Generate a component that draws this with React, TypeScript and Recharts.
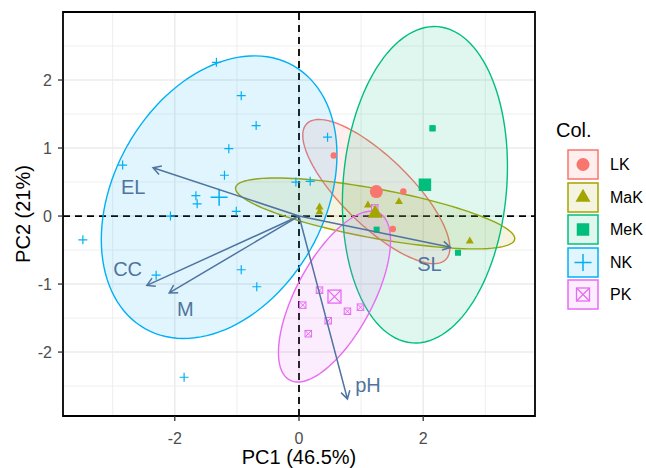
import React from "react";
import {
  ScatterChart,
  Scatter,
  XAxis,
  YAxis,
  CartesianGrid,
  ReferenceLine,
  ReferenceArea,
} from "recharts";

const FONT = '"Liberation Sans", Arial, Helvetica, sans-serif';

// groups, in legend order
const groupNames = ["LK", "MaK", "MeK", "NK", "PK"];
const groupColors = ["#F8766D", "#A3A500", "#00BF7D", "#00B0F6", "#E76BF3"];
const groupShapes = ["circle", "triangle", "square", "plus", "squarecross"];

// individual scores (PC1 / PC2) for each group
const lkPC1 = [0.56, 1.68, 1.51, 1.23];
const lkPC2 = [0.89, 0.36, -0.19, 0.38];
const makPC1 = [0.33, 0.33, 1.11, 1.61, 2.75];
const makPC2 = [0.13, 0.06, 0.16, 0.21, -0.37];
const mekPC1 = [2.15, 2.15, 1.25, 2.56];
const mekPC2 = [1.29, 1.29, -0.2, -0.54];
const nkPC1 = [-1.33, -0.93, -0.69, -1.13, -2.84, -1.2, -1.66, -1.64, -1.01, -2.07, -3.48, -2.3, -0.93, -0.68, -1.85, 0.46, -0.05, 0.18];
const nkPC2 = [2.26, 1.77, 1.33, 0.99, 0.75, 0.6, 0.3, 0.18, 0.07, 0.0, -0.35, -0.87, -0.79, -1.04, -2.37, 1.16, 0.5, 0.51];
const pkPC1 = [0.33, 0.06, 0.78, 0.99, 0.47, 0.15, 1.22];
const pkPC2 = [-1.09, -1.31, -1.4, -1.34, -1.54, -1.73, 0.12];

const groupPC1 = [lkPC1, makPC1, mekPC1, nkPC1, pkPC1];
const groupPC2 = [lkPC2, makPC2, mekPC2, nkPC2, pkPC2];

// variable loadings (arrows) and where their labels sit
const varNames = ["EL", "CC", "M", "SL", "pH"];
const varPC1 = [-2.35, -2.45, -2.09, 2.44, 0.78];
const varPC2 = [0.71, -1.02, -1.13, -0.46, -2.69];
const varLabelPC1 = [-2.67, -2.76, -1.83, 2.1, 1.11];
const varLabelPC2 = [0.43, -0.78, -1.36, -0.71, -2.48];

const xTicks = [-2, 0, 2];
const yTicks = [-2, -1, 0, 1, 2];
const xMinor = [-3, -1, 1, 3];
const yMinor = [-2.5, -1.5, -0.5, 0.5, 1.5, 2.5];
const xDomain: [number, number] = [-3.8, 3.8];
const yDomain: [number, number] = [-2.94, 3.0];
const ellipseLevel = 0.8;

const ARROW = "#4f74a0";

const mean = (a: number[]) => a.reduce((s, v) => s + v, 0) / a.length;

// normal-theory ellipse like stat_ellipse(type = "norm")
function ellipse(xs: number[], ys: number[], level: number, seg = 120) {
  const n = xs.length;
  const mx = mean(xs);
  const my = mean(ys);
  let sxx = 0, syy = 0, sxy = 0;
  for (let i = 0; i < n; i++) {
    sxx += (xs[i] - mx) ** 2;
    syy += (ys[i] - my) ** 2;
    sxy += (xs[i] - mx) * (ys[i] - my);
  }
  sxx /= n - 1;
  syy /= n - 1;
  sxy /= n - 1;
  const d2 = n - 1;
  const qf = (d2 / 2) * (Math.pow(1 - level, -2 / d2) - 1);
  const r = Math.sqrt(2 * qf);
  const a = Math.sqrt(sxx);
  const b = sxy / a;
  const c = Math.sqrt(Math.max(syy - b * b, 0));
  const pts = [];
  for (let k = 0; k <= seg; k++) {
    const t = (2 * Math.PI * k) / seg;
    pts.push({ x: mx + r * a * Math.cos(t), y: my + r * (b * Math.cos(t) + c * Math.sin(t)) });
  }
  return pts;
}

function Marker({ kind, cx, cy, s, color }: any) {
  if (kind === "circle") return <circle cx={cx} cy={cy} r={s / 2} fill={color} />;
  if (kind === "square")
    return <rect x={cx - s / 2} y={cy - s / 2} width={s} height={s} fill={color} />;
  if (kind === "triangle") {
    const h = s * 0.866;
    return (
      <polygon
        points={`${cx},${cy - (h * 2) / 3} ${cx - s / 2},${cy + h / 3} ${cx + s / 2},${cy + h / 3}`}
        fill={color}
      />
    );
  }
  if (kind === "plus")
    return (
      <path
        d={`M${cx - s / 2},${cy}H${cx + s / 2}M${cx},${cy - s / 2}V${cy + s / 2}`}
        stroke={color}
        strokeWidth={s > 12 ? 1.5 : 1.2}
        fill="none"
      />
    );
  const h = s / 2;
  return (
    <g fill="none" stroke={color} strokeWidth={s > 10 ? 1.3 : 1}>
      <rect x={cx - h} y={cy - h} width={s} height={s} />
      <path d={`M${cx - h},${cy - h}L${cx + h},${cy + h}M${cx + h},${cy - h}L${cx - h},${cy + h}`} />
    </g>
  );
}

const smallSize: Record<string, number> = { circle: 6.5, triangle: 8, square: 6, plus: 9, squarecross: 6.5 };
const bigSize: Record<string, number> = { circle: 13, triangle: 15, square: 12.5, plus: 17, squarecross: 13 };

const Empty = () => <g />;

const ellipseLine = (color: string) => (props: any) => {
  const pts = props.points || [];
  const d = pts.map((p: any, i: number) => `${i ? "L" : "M"}${p.x},${p.y}`).join("") + "Z";
  return <path d={d} fill={color} fillOpacity={0.12} stroke={color} strokeWidth={1.4} />;
};

const arrowLine = (props: any) => {
  const pts = props.points || [];
  if (pts.length < 2) return <g />;
  const [p0, p1] = pts;
  const ang = Math.atan2(p1.y - p0.y, p1.x - p0.x);
  const L = 9;
  const w = Math.PI / 6;
  const a1x = p1.x - L * Math.cos(ang - w);
  const a1y = p1.y - L * Math.sin(ang - w);
  const a2x = p1.x - L * Math.cos(ang + w);
  const a2y = p1.y - L * Math.sin(ang + w);
  return (
    <path
      d={`M${p0.x},${p0.y}L${p1.x},${p1.y}M${a1x},${a1y}L${p1.x},${p1.y}L${a2x},${a2y}`}
      stroke={ARROW}
      strokeWidth={1.5}
      fill="none"
    />
  );
};

export default function App() {
  const ellipses = groupNames.map((_, g) => ellipse(groupPC1[g], groupPC2[g], ellipseLevel));
  const points = groupNames.map((_, g) => groupPC1[g].map((x, i) => ({ x, y: groupPC2[g][i] })));
  const centroids = groupNames.map((_, g) => [{ x: mean(groupPC1[g]), y: mean(groupPC2[g]) }]);
  const arrows = varNames.map((_, v) => [
    { x: 0, y: 0 },
    { x: varPC1[v], y: varPC2[v] },
  ]);
  const labels = varNames.map((name, v) => ({ x: varLabelPC1[v], y: varLabelPC2[v], name }));

  return (
    <div style={{ position: "absolute", left: 0, top: 0, width: 646, height: 468, background: "#fff", fontFamily: FONT }}>
      <ScatterChart width={646} height={468} margin={{ top: 12, right: 111, bottom: 0, left: 0 }}>
        <CartesianGrid verticalValues={xMinor} horizontalValues={yMinor} stroke="#ebebeb" strokeWidth={0.8} />
        <CartesianGrid verticalValues={xTicks} horizontalValues={yTicks} stroke="#ebebeb" strokeWidth={1.4} />
        <XAxis
          type="number"
          dataKey="x"
          domain={xDomain}
          ticks={xTicks}
          allowDataOverflow
          height={52}
          axisLine={false}
          tickSize={5}
          tickMargin={12}
          tickLine={{ stroke: "#333", strokeWidth: 1.3 }}
          tick={{ fill: "#4d4d4d", fontSize: 16, fontFamily: FONT }}
          label={{ value: "PC1 (46.5%)", position: "insideBottom", offset: 4, fill: "#000", fontSize: 20, fontFamily: FONT }}
        />
        <YAxis
          type="number"
          dataKey="y"
          domain={yDomain}
          ticks={yTicks}
          allowDataOverflow
          width={63}
          axisLine={false}
          tickSize={5}
          tickMargin={6}
          tickLine={{ stroke: "#333", strokeWidth: 1.3 }}
          tick={{ fill: "#4d4d4d", fontSize: 16, fontFamily: FONT }}
          label={{
            value: "PC2 (21%)",
            angle: -90,
            position: "insideLeft",
            offset: 23,
            fill: "#000",
            fontSize: 20,
            fontFamily: FONT,
            style: { textAnchor: "middle" },
          }}
        />
        {ellipses.map((pts, g) => (
          <Scatter
            key={"e" + g}
            data={pts}
            shape={Empty}
            line={ellipseLine(groupColors[g])}
            isAnimationActive={false}
          />
        ))}
        <ReferenceLine x={0} stroke="#000" strokeWidth={1.8} strokeDasharray="7 5" />
        <ReferenceLine y={0} stroke="#000" strokeWidth={1.8} strokeDasharray="7 5" />
        {points.map((pts, g) => (
          <Scatter
            key={"p" + g}
            data={pts}
            isAnimationActive={false}
            shape={(p: any) => (
              <Marker kind={groupShapes[g]} cx={p.cx} cy={p.cy} s={smallSize[groupShapes[g]]} color={groupColors[g]} />
            )}
          />
        ))}
        {centroids.map((pts, g) => (
          <Scatter
            key={"c" + g}
            data={pts}
            isAnimationActive={false}
            shape={(p: any) => (
              <Marker kind={groupShapes[g]} cx={p.cx} cy={p.cy} s={bigSize[groupShapes[g]]} color={groupColors[g]} />
            )}
          />
        ))}
        {arrows.map((pts, v) => (
          <Scatter key={"a" + v} data={pts} shape={Empty} line={arrowLine} isAnimationActive={false} />
        ))}
        <Scatter
          data={labels}
          isAnimationActive={false}
          shape={(p: any) => (
            <text
              x={p.cx}
              y={p.cy}
              textAnchor="middle"
              dominantBaseline="central"
              fontSize={20}
              fontFamily={FONT}
              fill={ARROW}
            >
              {p.payload.name}
            </text>
          )}
        />
        <ReferenceArea
          x1={xDomain[0]}
          x2={xDomain[1]}
          y1={yDomain[0]}
          y2={yDomain[1]}
          fill="none"
          stroke="#000"
          strokeWidth={1.8}
          fillOpacity={0}
        />
      </ScatterChart>
      <div style={{ position: "absolute", left: 556, top: 118, fontSize: 20, lineHeight: "24px", color: "#000" }}>Col.</div>
      {groupNames.map((name, g) => (
        <div key={name}>
          <svg
            style={{ position: "absolute", left: 567, top: 149 + g * 32.5 }}
            width={32}
            height={31}
          >
            <rect
              x={1}
              y={1}
              width={30}
              height={29}
              fill={groupColors[g]}
              fillOpacity={0.12}
              stroke={groupColors[g]}
              strokeWidth={1.5}
            />
            <Marker kind={groupShapes[g]} cx={16} cy={15.5} s={bigSize[groupShapes[g]]} color={groupColors[g]} />
          </svg>
          <div
            style={{
              position: "absolute",
              left: 610,
              top: 149 + g * 32.5,
              height: 31,
              lineHeight: "31px",
              fontSize: 16,
              color: "#000",
            }}
          >
            {name}
          </div>
        </div>
      ))}
    </div>
  );
}
